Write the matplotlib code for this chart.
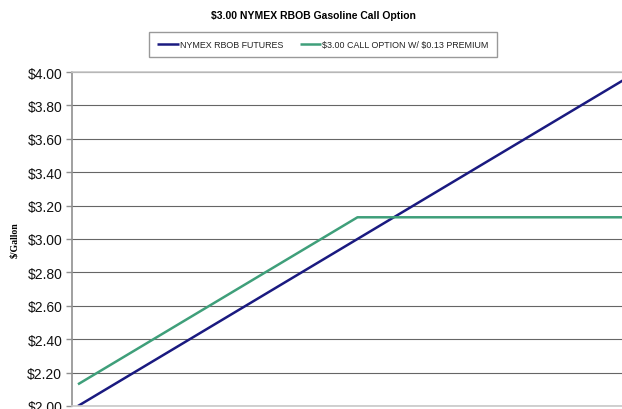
import matplotlib
matplotlib.use("Agg")
import matplotlib.pyplot as plt
from matplotlib.ticker import FuncFormatter, MultipleLocator

futures_price = [2.00, 2.50, 3.00, 3.50, 4.00]
futures_value = [2.00, 2.50, 3.00, 3.50, 4.00]
call_value = [2.13, 2.63, 3.13, 3.13, 3.13]
series_names = ["NYMEX RBOB FUTURES", "$3.00 CALL OPTION W/ $0.13 PREMIUM"]
title = "$3.00 NYMEX RBOB Gasoline Call Option"
ylabel = "$/Gallon"

plt.rcParams['font.family'] = ['Liberation Sans', 'DejaVu Sans']
plt.rcParams['text.parse_math'] = False

W, H = 622, 410
fig = plt.figure(figsize=(W / 100, H / 100), dpi=100)
ax_left, ax_right, ax_top, ax_bottom = 72, 622, 73, 407
ax = fig.add_axes([ax_left / W, (H - ax_bottom) / H, (ax_right - ax_left) / W, (ax_bottom - ax_top) / H])

navy = "#1a1a80"
green = "#3f9f7a"
l1, = ax.plot(futures_price, futures_value, color=navy, lw=1.8, solid_capstyle='butt')
l2, = ax.plot(futures_price, call_value, color=green, lw=1.8, solid_capstyle='butt')

ax.set_xlim(2 - 6 / 280, 2 + 545 / 280)
ax.set_ylim(2.0, 4.0)
ax.yaxis.set_major_locator(MultipleLocator(0.2))
ax.yaxis.set_major_formatter(FuncFormatter(lambda v, p: f"${v:.2f}"))
ax.set_xticks([])
ax.grid(axis='y', color='#666666', lw=0.8)
ax.set_axisbelow(True)
ax.spines['right'].set_visible(False)
ax.spines['top'].set_color('#c8c8c8')
ax.spines['bottom'].set_color('#c8c8c8')
ax.spines['left'].set_color('#909090')
for s in ax.spines.values():
    s.set_linewidth(1.2)
ax.tick_params(axis='y', direction='out', length=4, width=1, color='#909090', labelsize=10, pad=3, labelcolor='#111111')

fig.text(15 / W, 1 - 240 / H, ylabel, rotation=90, ha='center', va='center',
         fontsize=7, fontweight='bold', family=['Liberation Serif', 'DejaVu Serif'])
fig.text(313 / W, 1 - 16 / H, title, ha='center', va='center', fontsize=7.5, fontweight='bold')

leg = fig.legend([l1, l2], series_names, loc='center', bbox_to_anchor=(323 / W, 1 - 45.5 / H),
                 ncol=2, fontsize=6.4, frameon=True, fancybox=False, edgecolor='#808080',
                 handlelength=2.4, handletextpad=0.1, columnspacing=1.9, borderpad=0.95)
leg.get_frame().set_linewidth(1.0)
for t in leg.get_texts():
    t.set_color('#222222')

fig.savefig("out.png", dpi=100)
